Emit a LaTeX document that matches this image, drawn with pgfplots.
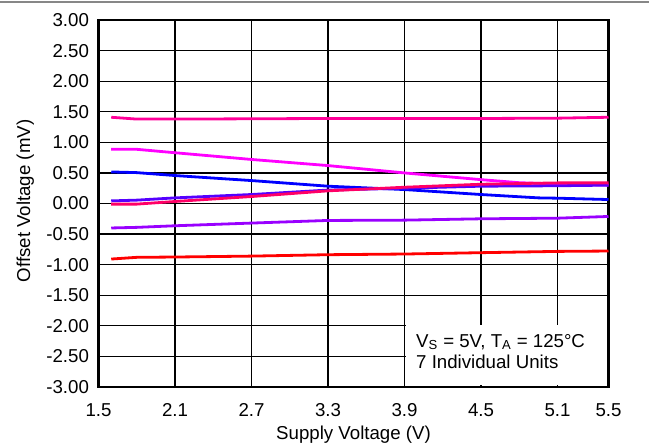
\documentclass[border=0pt]{standalone}
\usepackage{pgfplots}
\pgfplotsset{compat=1.18}
\usepackage{fontspec}
\setmainfont{Liberation Sans}
\definecolor{cPink}{HTML}{FF0099}
\definecolor{cMag}{HTML}{FF00FF}
\definecolor{cBlue}{HTML}{0000FF}
\definecolor{cPB}{HTML}{5500FF}
\definecolor{cRP}{HTML}{FF0066}
\definecolor{cVio}{HTML}{9900FF}
\definecolor{cRed}{HTML}{FF0000}
\begin{document}
\begin{tikzpicture}[x=0.75pt,y=0.75pt]
\begin{axis}[
  name=ax,
  scale only axis, width=382.5pt, height=275.25pt,
  xmin=1.5, xmax=5.5, ymin=-3, ymax=3,
  xtick={1.5,2.1,2.7,3.3,3.9,4.5,5.1,5.5},
  ytick={-3,-2.5,-2,-1.5,-1,-0.5,0,0.5,1,1.5,2,2.5,3},
  grid=major,
  major grid style={black, line width=0.9pt},
  tick style={black, line width=0.9pt},
  tick align=inside, major tick length=4pt,
  axis line style={black, line width=2.2pt},
  /pgf/number format/assume math mode=true,
  xticklabel style={font=\fontsize{14}{16}\selectfont, inner sep=0pt, yshift=-12.5pt, /pgf/number format/fixed, /pgf/number format/precision=1, /pgf/number format/fixed zerofill},
  yticklabel style={font=\fontsize{14}{16}\selectfont, inner sep=0pt, xshift=-7pt, /pgf/number format/fixed, /pgf/number format/precision=2, /pgf/number format/fixed zerofill},
  every axis plot/.append style={line width=2.1pt, no markers},
]
\addplot[color=cPink] coordinates {(1.6,1.41) (1.8,1.38) (2.1,1.38) (2.7,1.385) (3.3,1.39) (3.9,1.39) (4.5,1.39) (5.1,1.395) (5.5,1.41)};
\addplot[color=cMag] coordinates {(1.6,0.886) (1.8,0.886) (2.1,0.83) (2.7,0.72) (3.3,0.62) (3.9,0.50) (4.5,0.39) (4.8,0.34) (5.1,0.32) (5.5,0.30)};
\addplot[color=cBlue] coordinates {(1.6,0.516) (1.8,0.505) (2.1,0.457) (2.7,0.375) (3.3,0.283) (3.9,0.228) (4.5,0.147) (4.95,0.092) (5.1,0.087) (5.5,0.065)};
\addplot[color=cPB] coordinates {(1.6,0.043) (1.8,0.055) (2.1,0.092) (2.7,0.147) (3.3,0.22) (3.9,0.25) (4.5,0.283) (5.1,0.29) (5.5,0.30)};
\addplot[color=cRP] coordinates {(1.6,-0.01) (1.8,-0.01) (2.1,0.033) (2.7,0.114) (3.3,0.207) (3.9,0.266) (4.5,0.315) (5.1,0.337) (5.5,0.337)};
\addplot[color=cVio] coordinates {(1.6,-0.40) (1.8,-0.39) (2.1,-0.364) (2.7,-0.32) (3.3,-0.277) (3.9,-0.272) (4.5,-0.25) (5.1,-0.24) (5.5,-0.212)};
\addplot[color=cRed] coordinates {(1.6,-0.908) (1.8,-0.88) (2.1,-0.875) (2.7,-0.86) (3.3,-0.837) (3.9,-0.826) (4.5,-0.804) (5.1,-0.783) (5.5,-0.777)};
\fill[white] (axis cs:3.912,-1.985) rectangle (axis cs:5.485,-2.975);
\node[anchor=base west, inner sep=0pt, font=\fontsize{14}{16}\selectfont] at (axis cs:3.99,-2.346) {V\textsubscript{S} = 5V, T\textsubscript{A} = 125°C};
\node[anchor=base west, inner sep=0pt, font=\fontsize{14}{16}\selectfont] at (axis cs:3.99,-2.69) {7 Individual Units};
\end{axis}
\pgfresetboundingbox
\path[use as bounding box] ([shift={(-98.5,-60)}]ax.south west) rectangle ([shift={(550.5,387)}]ax.south west);
\draw[color=black!47, line width=1.7pt] ([shift={(-98.5,385)}]ax.south west) -- ([shift={(550.5,385)}]ax.south west);
\node[anchor=base, inner sep=0pt, font=\fontsize{14}{16}\selectfont] at ([shift={(255,-52)}]ax.south west) {Supply Voltage (V)};
\node[anchor=base, rotate=90, inner sep=0pt, font=\fontsize{14}{16}\selectfont] at ([shift={(-68.5,186)}]ax.south west) {Offset Voltage (mV)};
\end{tikzpicture}
\end{document}
